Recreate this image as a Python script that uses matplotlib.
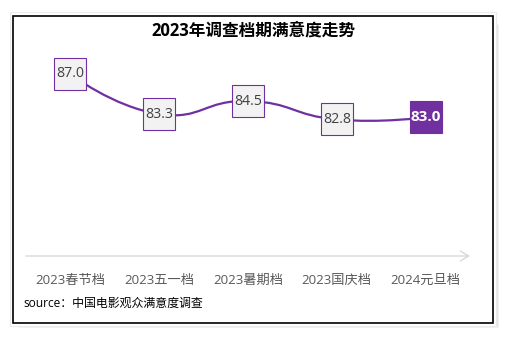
import numpy as np
import matplotlib
matplotlib.use("Agg")
import matplotlib.pyplot as plt
from matplotlib.patches import Rectangle, PathPatch
from matplotlib.path import Path

plt.rcParams['font.family'] = ['Open Sans', 'Noto Sans CJK SC', 'DejaVu Sans']

# data
categories = ["2023春节档", "2023五一档", "2023暑期档", "2023国庆档", "2024元旦档"]
scores = [87.0, 83.3, 84.5, 82.8, 83.0]
title = "2023年调查档期满意度走势"
source = "source：中国电影观众满意度调查"

PURPLE = "#7030A0"
W, H = 507, 344
fig = plt.figure(figsize=(W / 100, H / 100), dpi=100)
fig.patch.set_facecolor("white")


def fx(x):
    return x / W


def fy(y):
    return (H - y) / H


# card shadow, faint outline and black frame
for k, a in enumerate([0.10, 0.12, 0.14, 0.16, 0.18]):
    off = 5 - k
    fig.patches.append(Rectangle((fx(13 + off + 1), fy(323 + off)), fx(480), (323 - 20) / H,
                                 transform=fig.transFigure, facecolor="#808080", alpha=a,
                                 edgecolor="none", zorder=0))
fig.patches.append(Rectangle((fx(10), fy(326)), fx(486), 314 / H, transform=fig.transFigure,
                             facecolor="white", edgecolor="#EBEBEB", lw=0.8, zorder=0.5))
fig.patches.append(Rectangle((fx(13), fy(323)), fx(480), 307 / H, transform=fig.transFigure,
                             facecolor="white", edgecolor="black", lw=1.2, zorder=1))

ax = fig.add_axes([fx(26), fy(256), fx(444), (256 - 40) / H], zorder=2)
ax.set_facecolor("none")
x = np.arange(len(categories))
ax.set_xlim(-0.5, len(categories) - 0.5)
ax.set_ylim(70.19, 90.14)
for s in ax.spines.values():
    s.set_visible(False)
ax.set_yticks([])
ax.set_xticks(x)
ax.set_xticklabels(categories, fontsize=9.5, color="#595959")
ax.tick_params(axis="x", length=0, pad=13)

# axis line with open arrow head
ax.annotate("", xy=(1.0, 0), xytext=(0, 0), xycoords="axes fraction",
            arrowprops=dict(arrowstyle="->,head_length=0.5,head_width=0.3",
                            color="#D9D9D9", lw=1.0, shrinkA=0, shrinkB=0,
                            mutation_scale=12))

# smooth curve through the points (cubic Bezier, control points in screen space)
fig.canvas.draw()
pts = ax.transData.transform(np.column_stack([x, scores]))
smooth = 0.5
n = len(pts)
verts = [pts[0]]
codes = [Path.MOVETO]
cps = []
for i in range(n):
    if i == 0 or i == n - 1:
        cps.append((pts[i], pts[i]))
        continue
    v = pts[i + 1] - pts[i - 1]
    d0 = np.linalg.norm(pts[i] - pts[i - 1])
    d1 = np.linalg.norm(pts[i + 1] - pts[i])
    c_prev = pts[i] - v * smooth * d0 / (d0 + d1)
    c_next = pts[i] + v * smooth * d1 / (d0 + d1)
    cps.append((c_prev, c_next))
for i in range(n - 1):
    verts += [cps[i][1], cps[i + 1][0], pts[i + 1]]
    codes += [Path.CURVE4] * 3
inv = ax.transData.inverted()
data_verts = inv.transform(np.array(verts))
ax.add_patch(PathPatch(Path(data_verts, codes), facecolor="none", edgecolor=PURPLE,
                       lw=1.6, zorder=3))

# value boxes
face = ["#F2F2F2"] * (n - 1) + [PURPLE]
for i in range(n):
    ax.plot(x[i], scores[i], marker="s", markersize=23, markerfacecolor=face[i],
            markeredgecolor=PURPLE, markeredgewidth=0.8, zorder=4, clip_on=False)
    last = i == n - 1
    ax.text(x[i], scores[i], f"{scores[i]:.1f}", ha="center", va="center",
            fontsize=11 if last else 10.2, color="white" if last else "#404040",
            fontweight="bold" if last else "normal", zorder=5)

fig.text(fx(253), fy(30.5), title, ha="center", va="center", fontsize=12,
         fontweight="bold", color="black", zorder=3)
fig.text(fx(23), fy(303), source, ha="left", va="center", fontsize=8.6,
         color="black", zorder=3)

fig.savefig("out.png", dpi=100)
